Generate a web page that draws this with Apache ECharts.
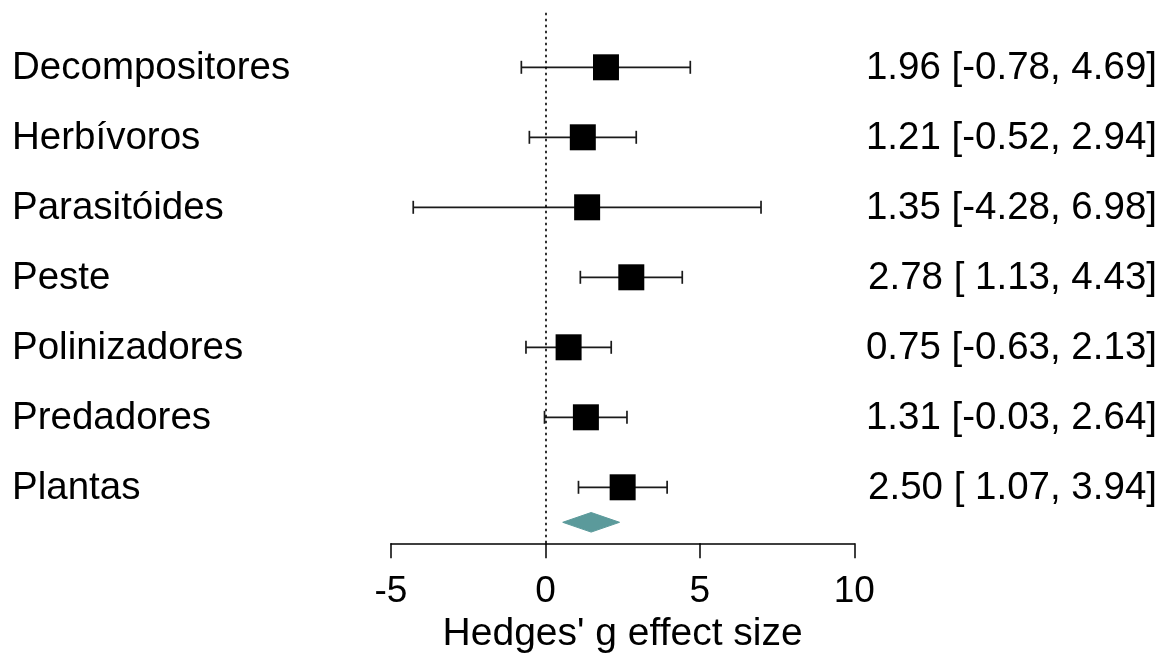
<!DOCTYPE html>
<html>
<head>
<meta charset="utf-8">
<script src="https://cdn.jsdelivr.net/npm/echarts@6/dist/echarts.min.js"></script>
<style>
  html, body { margin: 0; padding: 0; background: #fff; }
  #chart { width: 1174px; height: 655px; }
</style>
</head>
<body>
<div id="chart"></div>
<script>
// Groups, effect sizes (Hedges' g) and 95% confidence limits
const groups    = ['Decompositores', 'Herbívoros', 'Parasitóides', 'Peste', 'Polinizadores', 'Predadores', 'Plantas'];
const estimates = [1.96, 1.21, 1.35, 2.78, 0.75, 1.31, 2.50];
const lowerCI   = [-0.78, -0.52, -4.28, 1.13, -0.63, -0.03, 1.07];
const upperCI   = [4.69, 2.94, 6.98, 4.43, 2.13, 2.64, 3.94];

// Pooled (summary) estimate drawn as a diamond
const pooledEstimate = 1.48;
const pooledLower    = 0.56;
const pooledUpper    = 2.40;

const xTicks = [-5, 0, 5, 10];

const FONT = '"Liberation Sans", Arial, sans-serif';
const FS = 38.5;

// Row positions: first group at the top
const n = groups.length;
const rowPos = groups.map((_, i) => n - i);
const summaryRow = 0.5;

// Lower limit padded with a space when non-negative, as in "[ 1.13, 4.43]"
const padLow = v => (v >= 0 ? ' ' : '') + v.toFixed(2);
const rows = groups.map((g, i) => ({
  name: g,
  y: rowPos[i],
  est: estimates[i],
  lo: lowerCI[i],
  hi: upperCI[i],
  text: estimates[i].toFixed(2) + ' [' + padLow(lowerCI[i]) + ', ' + upperCI[i].toFixed(2) + ']'
}));

const chart = echarts.init(document.getElementById('chart'), null, { renderer: 'canvas' });

const option = {
  animation: false,
  backgroundColor: '#ffffff',
  grid: {
    left: 391, right: 319.7, top: 11.3, bottom: 111.7,
    containLabel: false,
    outerBoundsMode: 'none'
  },
  xAxis: {
    type: 'value',
    min: xTicks[0],
    max: xTicks[xTicks.length - 1],
    interval: 5,
    position: 'bottom',
    name: "Hedges' g effect size",
    nameLocation: 'middle',
    nameGap: 70,
    nameTextStyle: { fontFamily: FONT, fontSize: 39, color: '#000' },
    axisLine: { show: true, onZero: false, lineStyle: { color: '#000', width: 1.5 } },
    axisTick: { show: true, length: 15, lineStyle: { color: '#000', width: 1.5 } },
    axisLabel: { fontFamily: FONT, fontSize: 37, color: '#000', margin: 30 },
    splitLine: { show: false }
  },
  yAxis: {
    type: 'value',
    min: 0.2,
    max: 7.8,
    show: false
  },
  series: [
    // Vertical reference line at zero
    {
      type: 'line',
      data: [],
      silent: true,
      markLine: {
        silent: true,
        symbol: ['none', 'none'],
        label: { show: false },
        lineStyle: { color: '#000', width: 1.6, type: [2.5, 3.5] },
        data: [{ xAxis: 0 }]
      }
    },
    // Confidence interval whiskers with end caps
    {
      type: 'custom',
      silent: true,
      data: rows.map(r => [r.lo, r.hi, r.y]),
      renderItem: function (params, api) {
        const p1 = api.coord([api.value(0), api.value(2)]);
        const p2 = api.coord([api.value(1), api.value(2)]);
        const cap = 6.5;
        const style = { stroke: '#1a1a1a', lineWidth: 1.7, fill: null };
        return {
          type: 'group',
          children: [
            { type: 'line', shape: { x1: p1[0], y1: p1[1], x2: p2[0], y2: p2[1] }, style },
            { type: 'line', shape: { x1: p1[0], y1: p1[1] - cap, x2: p1[0], y2: p1[1] + cap }, style },
            { type: 'line', shape: { x1: p2[0], y1: p2[1] - cap, x2: p2[0], y2: p2[1] + cap }, style }
          ]
        };
      },
      z: 2
    },
    // Point estimates
    {
      type: 'scatter',
      silent: true,
      symbol: 'rect',
      symbolSize: 26,
      itemStyle: { color: '#000', opacity: 1 },
      data: rows.map(r => [r.est, r.y]),
      z: 3
    },
    // Summary diamond
    {
      type: 'custom',
      silent: true,
      data: [[pooledLower, pooledEstimate, pooledUpper, summaryRow]],
      renderItem: function (params, api) {
        const y = api.value(3);
        const l = api.coord([api.value(0), y]);
        const c = api.coord([api.value(1), y]);
        const r = api.coord([api.value(2), y]);
        const h = 9.8;
        return {
          type: 'polygon',
          shape: { points: [[l[0], l[1]], [c[0], c[1] - h], [r[0], r[1]], [c[0], c[1] + h]] },
          style: { fill: '#5b9a9b', stroke: '#5b9a9b', lineWidth: 1 }
        };
      },
      z: 3
    },
    // Group names (left) and estimate text (right)
    {
      type: 'custom',
      silent: true,
      data: rows.map(r => [r.est, r.y]),
      renderItem: function (params, api) {
        const r = rows[params.dataIndex];
        const p = api.coord([0, api.value(1)]);
        return {
          type: 'group',
          children: [
            { type: 'text', x: 12, y: p[1] + 1, style: { text: r.name, fontFamily: FONT, fontSize: FS, fill: '#000', align: 'left', verticalAlign: 'middle' } },
            { type: 'text', x: 1157, y: p[1] + 1, style: { text: r.text, fontFamily: FONT, fontSize: FS, fill: '#000', align: 'right', verticalAlign: 'middle' } }
          ]
        };
      },
      z: 4
    }
  ]
};

chart.setOption(option);
</script>
</body>
</html>
